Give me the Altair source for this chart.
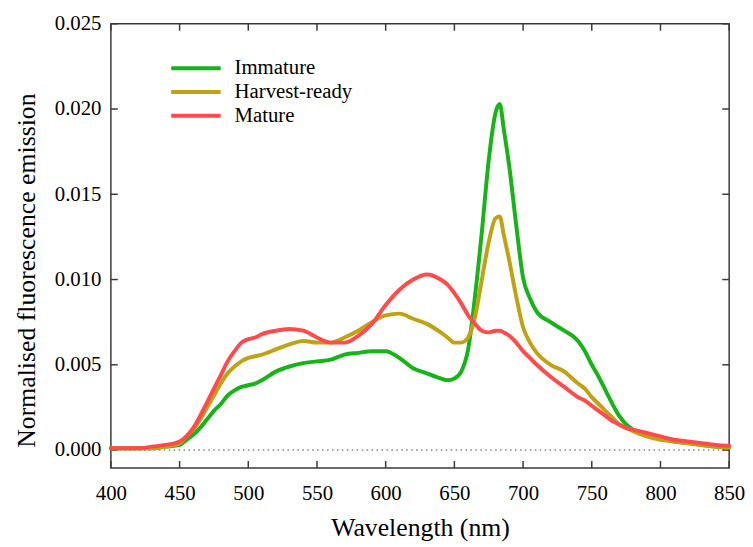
import altair as alt
import pandas as pd

wavelength = [400, 410, 420, 430, 440, 450, 455, 460, 465, 470, 475, 480, 485, 490, 495,
              500, 505, 510, 520, 530, 540, 550, 560, 570, 580, 590, 600, 610, 620, 630,
              640, 645, 650, 655, 660, 665, 670, 675, 680, 683, 686, 690, 695, 700, 705,
              710, 720, 730, 740, 745, 750, 755, 760, 765, 770, 775, 780, 790, 800, 810,
              820, 830, 840, 850]

immature = [0.0001, 0.0001, 0.0001, 0.0001, 0.0002, 0.0003, 0.0006, 0.0009, 0.0013, 0.0018,
            0.0023, 0.0027, 0.0032, 0.0035, 0.0037, 0.0038, 0.0039, 0.0041, 0.0046, 0.0049,
            0.0051, 0.0052, 0.0053, 0.0056, 0.0057, 0.0058, 0.0058, 0.0054, 0.0048, 0.0045,
            0.0042, 0.0041, 0.0042, 0.0046, 0.0059, 0.0090, 0.0128, 0.0170, 0.0198, 0.0203,
            0.0188, 0.0166, 0.0132, 0.0101, 0.0089, 0.0081, 0.0075, 0.0070, 0.0064, 0.0058,
            0.0050, 0.0043, 0.0035, 0.0027, 0.0020, 0.0015, 0.0012, 0.0009, 0.0007, 0.0005,
            0.0004, 0.0003, 0.0002, 0.00015]

harvest_ready = [0.0001, 0.0001, 0.0001, 0.0001, 0.0002, 0.0004, 0.0008, 0.0012, 0.0018, 0.0025,
                 0.0032, 0.0039, 0.0045, 0.0049, 0.0052, 0.0054, 0.0055, 0.0056, 0.0059, 0.0062,
                 0.0064, 0.0063, 0.0063, 0.0066, 0.0070, 0.0075, 0.0079, 0.0080, 0.0077, 0.0074,
                 0.0069, 0.0066, 0.0063, 0.0063, 0.0066, 0.0078, 0.0100, 0.0122, 0.0136, 0.0137,
                 0.0126, 0.0111, 0.0090, 0.0072, 0.0063, 0.0057, 0.0050, 0.0046, 0.0039, 0.0036,
                 0.0031, 0.0027, 0.0023, 0.0019, 0.0015, 0.0013, 0.0011, 0.0008, 0.0006, 0.0005,
                 0.0004, 0.0003, 0.0002, 0.00015]

mature = [0.0001, 0.0001, 0.0001, 0.0002, 0.0003, 0.0005, 0.0008, 0.0013, 0.0020, 0.0028,
          0.0036, 0.0044, 0.0052, 0.0058, 0.0063, 0.0065, 0.0066, 0.0068, 0.0070, 0.0071,
          0.0070, 0.0066, 0.0063, 0.0063, 0.0067, 0.0074, 0.0085, 0.0094, 0.0100, 0.0103,
          0.0100, 0.0097, 0.0092, 0.0086, 0.0079, 0.0074, 0.0070, 0.0069, 0.0070, 0.0070,
          0.0069, 0.0067, 0.0063, 0.0058, 0.0054, 0.0050, 0.0043, 0.0037, 0.0031, 0.0029,
          0.0026, 0.0023, 0.0020, 0.0017, 0.0015, 0.0013, 0.0012, 0.0010, 0.0008, 0.0006,
          0.0005, 0.0004, 0.0003, 0.00025]

stages = ["Immature", "Harvest-ready", "Mature"]
colors = ["#16b416", "#c1a214", "#ff4b4b"]
x_ticks = [400, 450, 500, 550, 600, 650, 700, 750, 800, 850]
y_ticks = [0.0, 0.005, 0.010, 0.015, 0.020, 0.025]

rows = []
for name, vals in zip(stages, [immature, harvest_ready, mature]):
    for w, v in zip(wavelength, vals):
        rows.append({"wl": w, "v": v, "stage": name})
df = pd.DataFrame(rows)
zero_df = pd.DataFrame({"y": [0.0]})
xt_df = pd.DataFrame({"t": x_ticks})
yt_df = pd.DataFrame({"t": y_ticks})

W, H = 625, 449
TL = 7
FONT = "Liberation Serif, Times New Roman, Times, serif"
FRAME = "#3a3a3a"

xs = alt.Scale(domain=[400, 850], nice=False, zero=False)
ys = alt.Scale(domain=[-0.00105, 0.025], nice=False, zero=False)
cs = alt.Scale(domain=stages, range=colors)

legend = alt.Legend(title=None, orient="none", legendX=74, legendY=33,
                    symbolType="M-2.5,0H2.5", symbolSize=400, symbolStrokeWidth=4,
                    labelFont=FONT, labelFontSize=21, labelColor="black",
                    labelOffset=27, rowPadding=2, padding=0)

x_axis = alt.Axis(values=x_ticks, ticks=False, tickSize=0, domain=False, grid=False,
                  labelPadding=15, labelFlush=False, title="Wavelength (nm)",
                  titlePadding=11, format="d")
y_axis = alt.Axis(values=y_ticks, ticks=False, tickSize=0, domain=False, grid=False,
                  labelPadding=10, labelFlush=False,
                  title="Normalised fluorescence emission",
                  titlePadding=15, titleY=249, format=".3f")


def line_layer(i):
    return alt.Chart(df).transform_filter(
        alt.datum.stage == stages[i]
    ).mark_line(strokeWidth=4, strokeCap="round", strokeJoin="round",
                interpolate="monotone").encode(
        x=alt.X("wl:Q", scale=xs, axis=x_axis),
        y=alt.Y("v:Q", scale=ys, axis=y_axis),
        color=alt.Color("stage:N", scale=cs, legend=legend if i == 0 else None),
    )


zero_rule = alt.Chart(zero_df).mark_rule(
    strokeDash=[1.5, 3.5], color="#444", strokeWidth=1
).encode(y=alt.Y("y:Q", scale=ys, axis=y_axis))

tick_style = dict(color=FRAME, strokeWidth=1.5)
bottom_ticks = alt.Chart(xt_df).mark_rule(**tick_style).encode(
    x=alt.X("t:Q", scale=xs, axis=x_axis), y=alt.value(H), y2=alt.value(H - TL))
top_ticks = alt.Chart(xt_df).mark_rule(**tick_style).encode(
    x=alt.X("t:Q", scale=xs, axis=x_axis), y=alt.value(0), y2=alt.value(TL))
left_ticks = alt.Chart(yt_df).mark_rule(**tick_style).encode(
    y=alt.Y("t:Q", scale=ys, axis=y_axis), x=alt.value(0), x2=alt.value(TL))
right_ticks = alt.Chart(yt_df).mark_rule(**tick_style).encode(
    y=alt.Y("t:Q", scale=ys, axis=y_axis), x=alt.value(W), x2=alt.value(W - TL))

chart = alt.layer(
    zero_rule, bottom_ticks, top_ticks, left_ticks, right_ticks,
    line_layer(0), line_layer(1), line_layer(2)
).properties(
    width=W, height=H,
    autosize=alt.AutoSizeParams(type="none"),
    padding={"left": 104, "top": 13, "right": 16, "bottom": 80},
    background="white",
).configure_view(
    stroke=FRAME, strokeWidth=1.5
).configure_axis(
    labelFont=FONT, labelFontSize=21, labelColor="black",
    titleFont=FONT, titleFontSize=26, titleFontWeight="normal", titleColor="black",
)

chart.save("out.html", embed_options={"renderer": "svg", "actions": False})
